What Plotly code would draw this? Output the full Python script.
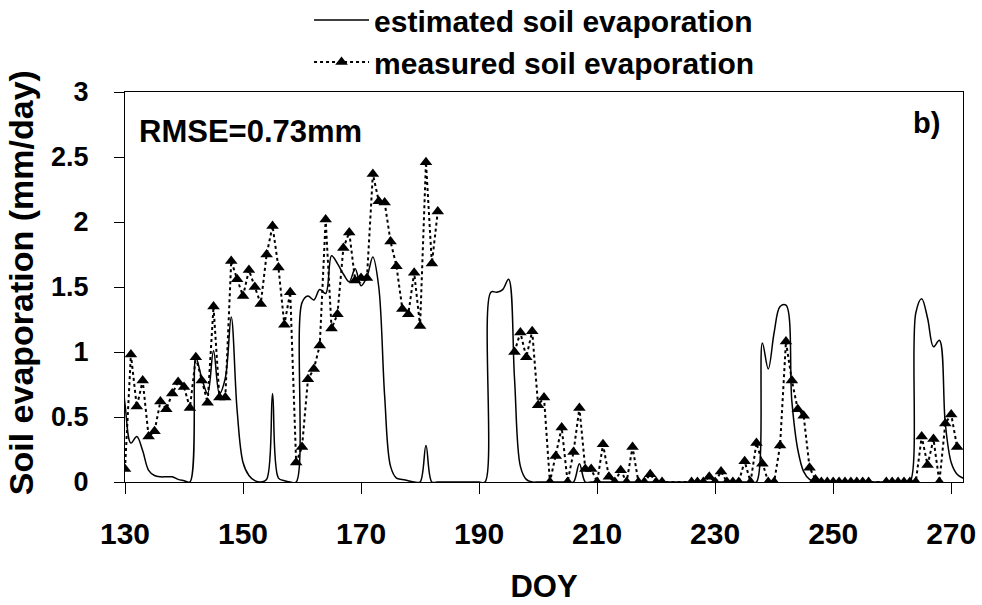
import plotly.graph_objects as go

# ---- data ----
est_doy = list(range(129, 274))
est_val = [
    1.05, 0.60, 0.30, 0.35, 0.24, 0.09, 0.05, 0.04, 0.04, 0.04,   # 129-138
    0.02, 0.01, 0.00, 0.96, 0.80, 0.68, 1.01, 0.68, 0.80, 1.27,   # 139-148
    0.55, 0.15, 0.05, 0.01, 0.00, 0.02, 0.68, 0.03, 0.01, 0.00,   # 149-158
    0.00, 1.38, 1.43, 1.40, 1.48, 1.45, 1.74, 1.68, 1.60, 1.54,   # 159-168
    1.64, 1.51, 1.58, 1.73, 1.50, 0.66, 0.12, 0.03, 0.02, 0.01,   # 169-178
    0.00, 0.00, 0.28, 0.00, 0.00, 0.00, 0.00, 0.00, 0.00, 0.00,   # 179-188
    0.00, 0.00, 0.00, 1.46, 1.46, 1.48, 1.56, 0.80, 0.12, 0.02,   # 189-198
    0.00, 0.00, 0.00, 0.00, 0.00, 0.00, 0.00, 0.00, 0.14, 0.00,   # 199-208
    0.00, 0.00, 0.00, 0.00, 0.00, 0.00, 0.00, 0.00, 0.00, 0.00,   # 209-218
    0.00, 0.00, 0.00, 0.00, 0.00, 0.00, 0.00, 0.00, 0.00, 0.00,   # 219-228
    0.00, 0.00, 0.00, 0.00, 0.00, 0.00, 0.00, 0.00, 0.00, 1.07,   # 229-238
    0.87, 1.15, 1.35, 1.36, 0.62, 0.25, 0.08, 0.02, 0.00, 0.00,   # 239-248
    0.00, 0.00, 0.00, 0.00, 0.00, 0.00, 0.00, 0.00, 0.00, 0.00,   # 249-258
    0.00, 0.00, 0.00, 0.00, 0.00, 1.30, 1.41, 1.26, 1.04, 1.09,   # 259-268
    0.45, 0.15, 0.06, 0.03, 0.01,                                 # 269-273
]

meas_doy = [
    130, 131, 132, 133, 134, 135, 136, 137, 138, 139, 140, 141, 142, 143, 144,
    145, 146, 147, 148, 149, 150, 151, 152, 153, 154, 155, 156, 157, 158, 159,
    160, 161, 162, 163, 164, 165, 166, 167, 168, 169, 170, 171, 172, 173, 174,
    175, 176, 177, 178, 179, 180, 181, 182, 183, 184,
    196, 197, 198, 199, 200, 201, 202, 203, 204, 205, 206, 207, 208, 209, 210,
    211, 212, 213, 214, 215, 216, 217, 218, 219, 220, 221,
    226, 227, 228, 229, 230, 231, 232, 233, 234, 235, 236, 237, 238, 239, 240,
    241, 242, 243, 244, 245, 246, 247, 248, 249, 250, 251, 252, 253, 254, 255,
    256,
    259, 260, 261, 262, 263, 264, 265, 266, 267, 268, 269, 270, 271,
]
meas_val = [
    0.10, 0.98, 0.58, 0.78, 0.35, 0.39, 0.62, 0.56, 0.68, 0.77, 0.73, 0.57, 0.96, 0.78, 0.61,
    1.35, 0.65, 0.65, 1.70, 1.56, 1.43, 1.63, 1.50, 1.37, 1.75, 1.97, 1.65, 1.21, 1.46, 0.15,
    0.27, 0.79, 0.87, 1.05, 2.02, 1.18, 1.29, 1.80, 1.92, 1.55, 1.57, 1.57, 2.37, 2.16, 2.15,
    1.85, 1.66, 1.33, 1.29, 1.61, 1.20, 2.46, 1.68, 2.08, None,
    1.00, 1.15, 0.96, 1.16, 0.59, 0.65, 0.00, 0.20, 0.42, 0.00, 0.23, 0.57, 0.10, 0.10, 0.00,
    0.29, 0.04, 0.00, 0.09, 0.00, 0.27, 0.00, 0.00, 0.06, 0.00, 0.00,
    0.00, 0.00, 0.00, 0.04, 0.00, 0.08, 0.00, 0.00, 0.00, 0.16, 0.00, 0.30, 0.14, 0.00, 0.00,
    0.28, 1.08, 0.78, 0.56, 0.51, 0.11, 0.02, 0.00, 0.00, 0.00, 0.00, 0.00, 0.00, 0.00, 0.00,
    0.00,
    0.00, 0.00, 0.00, 0.00, 0.00, 0.00, 0.35, 0.13, 0.33, 0.00, 0.45, 0.52, 0.27,
]

x_ticks = [130, 150, 170, 190, 210, 230, 250, 270]
y_ticks = [0, 0.5, 1, 1.5, 2, 2.5, 3]
y_tick_text = ["0", "0.5", "1", "1.5", "2", "2.5", "3"]

FONT = "Liberation Sans, Arial, sans-serif"

fig = go.Figure()
fig.add_trace(go.Scatter(
    x=est_doy, y=est_val, mode="lines", name="estimated soil evaporation",
    line=dict(color="black", width=1.5, shape="spline", smoothing=1.0),
))
fig.add_trace(go.Scatter(
    x=meas_doy, y=meas_val, mode="lines+markers", name="measured soil evaporation",
    line=dict(color="black", width=2, dash="dot"),
    marker=dict(symbol="triangle-up", size=11, color="black"),
    connectgaps=False,
))

fig.update_layout(
    width=982, height=605,
    margin=dict(l=125, r=19, t=92, b=123, autoexpand=False),
    paper_bgcolor="white", plot_bgcolor="white",
    font=dict(family=FONT, color="black"),
    showlegend=True,
    legend=dict(
        xref="container", yref="paper",
        x=0.3147, y=1.251, xanchor="left", yanchor="top",
        font=dict(family=FONT, size=30, color="black", weight="bold"),
        bgcolor="rgba(0,0,0,0)", tracegroupgap=0, itemwidth=55,
    ),
    xaxis=dict(
        range=[130, 272], tickmode="array", tickvals=x_ticks,
        ticktext=[str(v) for v in x_ticks],
        ticks="outside", ticklen=11, tickwidth=1.2, tickcolor="black",
        showline=True, linecolor="black", linewidth=1.2, mirror=True,
        showgrid=False, zeroline=False, automargin=True,
        tickfont=dict(family=FONT, size=30, color="black", weight="bold"),
        ticklabelstandoff=14,
        title=dict(text="DOY", font=dict(family=FONT, size=31, color="black", weight="bold"),
                   standoff=26),
    ),
    yaxis=dict(
        range=[0, 3], tickmode="array", tickvals=y_ticks, ticktext=y_tick_text,
        ticks="outside", ticklen=10, tickwidth=1.2, tickcolor="black",
        showline=True, linecolor="black", linewidth=1.2, mirror=True,
        showgrid=False, zeroline=False, automargin=False,
        tickfont=dict(family=FONT, size=27, color="black", weight="bold"),
        ticklabelstandoff=20,
    ),
    annotations=[
        dict(text="Soil evaporation (mm/day)", xref="paper", yref="paper",
             x=-0.124, y=0.51, xanchor="center", yanchor="middle", textangle=-90,
             showarrow=False,
             font=dict(family=FONT, size=34, color="black", weight="bold")),
        dict(text="RMSE=0.73mm", xref="paper", yref="paper", x=0.0143, y=0.898,
             xanchor="left", yanchor="middle", showarrow=False,
             font=dict(family=FONT, size=31, color="black", weight="bold")),
        dict(text="b)", xref="paper", yref="paper", x=0.9746, y=0.9205,
             xanchor="right", yanchor="middle", showarrow=False,
             font=dict(family=FONT, size=29, color="black", weight="bold")),
    ],
)

fig.write_html("out.html")
